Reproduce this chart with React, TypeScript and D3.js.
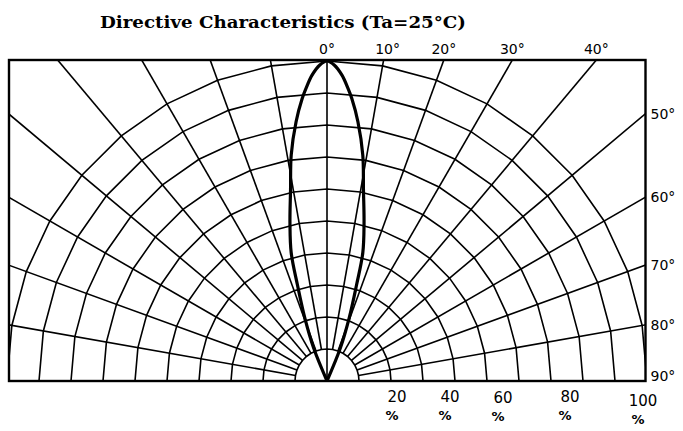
import React, { useEffect, useRef } from 'react';
import * as d3 from 'd3';

// grid
const ringPercents = [10, 20, 30, 40, 50, 60, 70, 80, 90, 100];
const gridAngles = [-90, -80, -70, -60, -50, -40, -30, -20, -10, 0, 10, 20, 30, 40, 50, 60, 70, 80, 90];
const topAngleLabels = [0, 10, 20, 30, 40];
const sideAngleLabels = [50, 60, 70, 80, 90];
const percentLabels = [20, 40, 60, 80, 100];

// radiation pattern (one side, mirrored) - angle in degrees, relative intensity %
const lobeAngles = [0, 1.3, 2.8, 4.1, 5.0, 6.8, 9.0, 10.8, 13.2, 15.6, 17.1, 19.4, 22.1, 25];
const lobeIntensity = [100, 98.8, 95.7, 91.7, 88.7, 81.6, 71.5, 60.8, 50.7, 41.6, 31.4, 20.9, 11.1, 0];

const title = 'Directive Characteristics (Ta=25°C)';

export default function App() {
  const chartRef = useRef<HTMLDivElement>(null);

  useEffect(() => {
    const W = 683;
    const H = 431;
    const frame = { left: 9, right: 645.5, top: 60, bottom: 381 };
    const cx = 327;
    const cy = frame.bottom;

    d3.select(chartRef.current).select('svg').remove();

    const svg = d3
      .select(chartRef.current)
      .append('svg')
      .attr('width', W)
      .attr('height', H)
      .style('position', 'absolute')
      .style('left', '0px')
      .style('top', '0px')
      .style('background', '#fff');

    const r = d3.scaleLinear().domain([0, 100]).range([0, 320]);
    const rad = (deg: number) => (deg * Math.PI) / 180;

    svg
      .append('defs')
      .append('clipPath')
      .attr('id', 'frame-clip')
      .append('rect')
      .attr('x', frame.left)
      .attr('y', frame.top)
      .attr('width', frame.right - frame.left)
      .attr('height', frame.bottom - frame.top);

    const plot = svg
      .append('g')
      .attr('clip-path', 'url(#frame-clip)')
      .append('g')
      .attr('transform', `translate(${cx},${cy})`);

    // concentric rings, straight segments between radial lines
    const ringLine = d3
      .lineRadial<number>()
      .angle(d => rad(d))
      .radius(0);

    plot
      .append('g')
      .selectAll('path')
      .data(ringPercents)
      .join('path')
      .attr('d', p => ringLine.radius(() => r(p))(gridAngles) as string)
      .attr('fill', 'none')
      .attr('stroke', '#000')
      .attr('stroke-width', 1.6);

    // radial lines
    plot
      .append('g')
      .selectAll('line')
      .data(gridAngles)
      .join('line')
      .attr('x1', a => (a === 0 ? 0 : r(10)) * Math.sin(rad(a)))
      .attr('y1', a => -(a === 0 ? 0 : r(10)) * Math.cos(rad(a)))
      .attr('x2', a => r(140) * Math.sin(rad(a)))
      .attr('y2', a => -r(140) * Math.cos(rad(a)))
      .attr('stroke', '#000')
      .attr('stroke-width', 1.6);

    // lobe
    const half = lobeAngles.map((a, i) => ({ a, v: lobeIntensity[i] }));
    const lobe = [
      ...half.slice().reverse().map(d => ({ a: -d.a, v: d.v })),
      ...half.slice(1),
    ];
    const lobeLine = d3
      .lineRadial<{ a: number; v: number }>()
      .angle(d => rad(d.a))
      .radius(d => r(d.v))
      .curve(d3.curveCatmullRom.alpha(0.5));

    plot
      .append('path')
      .attr('d', lobeLine(lobe) as string)
      .attr('fill', 'none')
      .attr('stroke', '#000')
      .attr('stroke-width', 3.2)
      .attr('stroke-linejoin', 'round');

    // frame
    svg
      .append('rect')
      .attr('x', frame.left)
      .attr('y', frame.top)
      .attr('width', frame.right - frame.left)
      .attr('height', frame.bottom - frame.top)
      .attr('fill', 'none')
      .attr('stroke', '#000')
      .attr('stroke-width', 2.4);

    const font = '"DejaVu Sans", sans-serif';

    // title
    svg
      .append('text')
      .attr('x', 100)
      .attr('y', 28)
      .attr('textLength', 366)
      .attr('lengthAdjust', 'spacingAndGlyphs')
      .style('font-family', '"DejaVu Serif", serif')
      .style('font-weight', 'bold')
      .style('font-size', '16px')
      .text(title);

    // angle labels along the top edge
    svg
      .append('g')
      .selectAll('text')
      .data(topAngleLabels)
      .join('text')
      .attr('x', a => cx + (cy - frame.top) * Math.tan(rad(a)) + (a === 10 ? 4 : 0))
      .attr('y', 54)
      .attr('text-anchor', 'middle')
      .style('font-family', font)
      .style('font-size', '14px')
      .text(a => `${a}°`);

    // angle labels along the right edge
    svg
      .append('g')
      .selectAll('text')
      .data(sideAngleLabels)
      .join('text')
      .attr('x', frame.right + 5)
      .attr('y', a => Math.min(cy - (frame.right - cx) / Math.tan(rad(a)), cy - 5) + 5)
      .style('font-family', font)
      .style('font-size', '14px')
      .text(a => `${a}°`);

    // percent labels under the baseline
    const numNudge = [6, -5, -16, -13, -4];
    const numDrop = [0, 0, 1, 0, 4];
    const pct = svg.append('g').selectAll('g').data(percentLabels).join('g');
    pct
      .append('text')
      .attr('x', (p, i) => cx + r(p) + numNudge[i])
      .attr('y', (p, i) => 402 + numDrop[i])
      .attr('text-anchor', 'middle')
      .style('font-family', font)
      .style('font-size', '15px')
      .text(p => `${p}`);
    pct
      .append('text')
      .attr('x', (p, i) => cx + r(p) + numNudge[i] - 5)
      .attr('y', (p, i) => 420 + numDrop[i])
      .attr('text-anchor', 'middle')
      .style('font-family', font)
      .style('font-weight', 'bold')
      .style('font-size', '13px')
      .text('%');
  }, []);

  return <div ref={chartRef}></div>;
}
